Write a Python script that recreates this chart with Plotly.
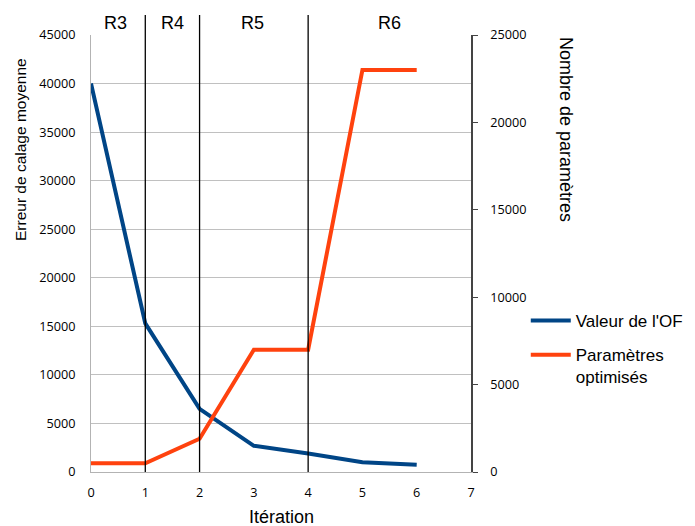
import plotly.graph_objects as go

iterations = [0, 1, 2, 3, 4, 5, 6]
of_values = [40000, 15300, 6500, 2700, 1900, 1000, 750]
param_counts = [500, 500, 1900, 7000, 7000, 23000, 23000]
phase_bounds = [1, 2, 4]
phase_labels = ["R3", "R4", "R5", "R6"]
phase_label_x = [0.45, 1.5, 2.98, 5.5]

fig = go.Figure()
fig.add_trace(go.Scatter(x=iterations, y=of_values, mode="lines", name="Valeur de l'OF",
                         legendgroup="of", line=dict(color="#004586", width=4), yaxis="y"))
fig.add_trace(go.Scatter(x=iterations, y=param_counts, mode="lines", name="Paramètres<br>optimisés",
                         legendgroup="par", line=dict(color="#ff420e", width=4), yaxis="y2"))

for b in phase_bounds:
    fig.add_shape(type="line", xref="x", yref="paper", x0=b, x1=b, y0=0, y1=1.046,
                  line=dict(color="black", width=1.3))
for lab, lx in zip(phase_labels, phase_label_x):
    fig.add_annotation(x=lx, y=(472 - 23) / 437, xref="x", yref="paper", text=lab, showarrow=False,
                       xanchor="center", yanchor="middle",
                       font=dict(family="Liberation Sans", size=18, color="black"))

fig.add_annotation(x=-71 / 380, y=(472 - 150) / 437, xref="paper", yref="paper",
                   text="Erreur de calage moyenne", textangle=-90, showarrow=False,
                   font=dict(family="Liberation Sans", size=15.5, color="black"),
                   xanchor="center", yanchor="middle")
fig.add_annotation(x=(566 - 91) / 380, y=(472 - 129) / 437, xref="paper", yref="paper",
                   text="Nombre de paramètres", textangle=90, showarrow=False,
                   font=dict(family="Liberation Sans", size=18, color="black"),
                   xanchor="center", yanchor="middle")
fig.add_annotation(x=0.5, y=(472 - 517) / 437, xref="paper", yref="paper", text="Itération",
                   showarrow=False, font=dict(family="Liberation Sans", size=18, color="black"),
                   xanchor="center", yanchor="middle")

tickfont = dict(family="Open Sans", size=12.7, color="black")
fig.update_layout(
    width=695, height=518,
    margin=dict(l=83, r=232, t=27, b=54),
    plot_bgcolor="white", paper_bgcolor="white",
    showlegend=True,
    legend=dict(xref="container", x=0.745, y=(472 - 303) / 437, xanchor="left", yanchor="top",
                valign="top", font=dict(family="Liberation Sans", size=17, color="black"),
                tracegroupgap=9, itemwidth=40),
    xaxis=dict(range=[0, 7], dtick=1, tickfont=tickfont, showgrid=False, zeroline=False,
               showline=True, linecolor="#b3b3b3", linewidth=1, automargin=False,
               ticklabelstandoff=9),
    yaxis=dict(range=[0, 45000], dtick=5000, tickformat="d", tickfont=tickfont, showgrid=True,
               gridcolor="#c0c0c0", automargin=False,
               zeroline=False, showline=True, linecolor="#b3b3b3", ticks="", ticklabelstandoff=12),
    yaxis2=dict(range=[0, 25000], dtick=5000, tickformat="d", overlaying="y", side="right",
                tickfont=tickfont, automargin=False,
                showgrid=False, zeroline=False, showline=True, linecolor="#444444", linewidth=1.5,
                ticks="outside", ticklen=5, tickcolor="#444444", ticklabelstandoff=10),
)
fig.write_html("out.html")
